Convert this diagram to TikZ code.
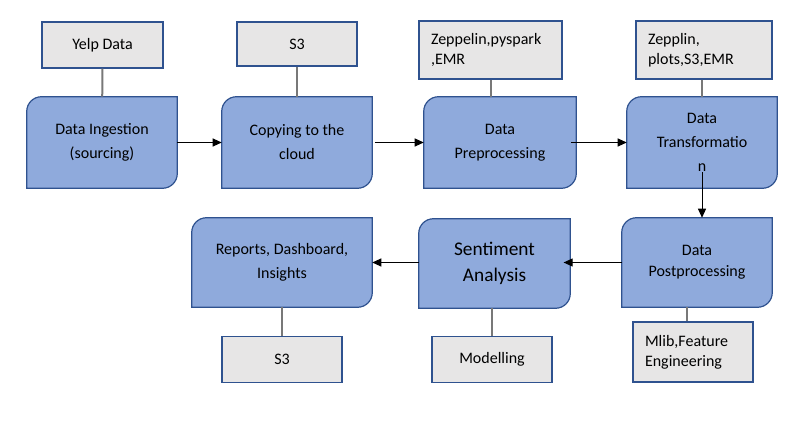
\documentclass[tikz,border=0pt]{standalone}
\usepackage{fontspec}
\setmainfont{Carlito}
\usetikzlibrary{arrows.meta,backgrounds}

\definecolor{procfill}{RGB}{143,170,220}
\definecolor{boxline}{RGB}{47,82,143}
\definecolor{toolfill}{RGB}{231,230,230}
\definecolor{linkgray}{RGB}{120,120,120}

\tikzset{
	proc/.style={rectangle,inner sep=0pt,minimum width=112.5pt,minimum height=68.25pt,
		align=center,font=\fontsize{12}{18}\selectfont},
	procshape/.style={draw=boxline,fill=procfill,line width=0.9pt},
	tool/.style={rectangle,draw=boxline,fill=toolfill,line width=1pt,inner sep=0pt,
		minimum width=90pt,minimum height=34pt,align=center,font=\fontsize{12}{15}\selectfont},
	toolleft/.style={tool,align=left,inner xsep=9pt,text width=#1},
	link/.style={draw=linkgray,line width=1.5pt},
	flow/.style={black,line width=0.75pt,-{Triangle[length=6.75pt,width=6pt]}},
}

\begin{document}
\begin{tikzpicture}[x=0.75pt,y=-0.75pt]
	
	\useasboundingbox (0,0) rectangle (809,423);
	
	% process steps
	\node[proc] (ing) at (102,142.5) {Data Ingestion\\(sourcing)};
	\node[proc] (cloud) at (297,142.5) {Copying to the\\cloud};
	\node[proc,minimum width=114pt] (pre) at (500,142.5) {Data\\Preprocessing};
	\node[proc] (trans) at (702,142.5) {Data\\Transformatio\\n};
	
	\node[proc,minimum width=135pt,minimum height=66.75pt] (rep) at (282,262.5) {Reports, Dashboard,\\Insights};
	\node[proc,minimum width=113.25pt,minimum height=66.75pt,font=\fontsize{14.5}{19}\selectfont] (sent) at (494.5,263.5) {Sentiment\\Analysis};
	\node[proc,minimum height=66.75pt,font=\fontsize{12}{16}\selectfont] (post) at (697,262.5) {Data\\Postprocessing};
	
	\begin{scope}[on background layer]
		\foreach \n in {ing,cloud,pre,trans,rep,sent,post}
		\draw[procshape] ([yshift=-11pt]\n.north west) arc[start angle=180,end angle=90,radius=11pt]
			-- (\n.north east) -- ([yshift=11pt]\n.south east) arc[start angle=0,end angle=-90,radius=11pt]
			-- (\n.south west) -- cycle;
	\end{scope}
	
	% tools
	\node[tool,minimum width=90.75pt,minimum height=34.5pt] (yelp) at (102.5,45) {Yelp Data};
	\node[tool,minimum height=33pt] (s3a) at (297,44) {S3};
	\node[toolleft=89.25pt,minimum height=43.5pt] (zep) at (490.5,50) {Zeppelin,pyspark\\,EMR};
	\node[toolleft=84pt,minimum height=43.5pt] (zepl) at (704,50) {Zepplin,\\plots,S3,EMR};
	
	\node[tool] (s3b) at (282,359.5) {S3};
	\node[tool] (model) at (492,359.5) {Modelling};
	\node[toolleft=72pt,minimum height=45pt] (mlib) at (693,352) {Mlib,Feature\\Engineering};
	
	\draw[link] (yelp) -- (ing);
	\draw[link] (s3a) -- (cloud);
	\draw[link] (zep.south) -- (zep.south |- pre.north);
	\draw[link] ([xshift=-1.5pt]zepl.south) -- ([xshift=-1.5pt]zepl.south |- trans.north);
	\draw[link] (s3b) -- (rep);
	\draw[link] (model.north) -- (model.north |- sent.south);
	\draw[link] ([xshift=-4.5pt]mlib.north) -- ([xshift=-4.5pt]mlib.north |- post.south);
	
	% flow
	\draw[flow] (ing) -- (cloud);
	\draw[flow] ([xshift=2pt]cloud.east) -- (pre);
	\draw[flow] ([xshift=-4pt]pre.east) -- (trans);
	\draw[flow] ([yshift=12pt]trans.south) -- (trans.south |- post.north);
	\draw[flow] (post.west) -- ([xshift=-5pt]post.west -| sent.east);
	\draw[flow] (sent.west |- rep.east) -- (rep.east);
	
\end{tikzpicture}
\end{document}
